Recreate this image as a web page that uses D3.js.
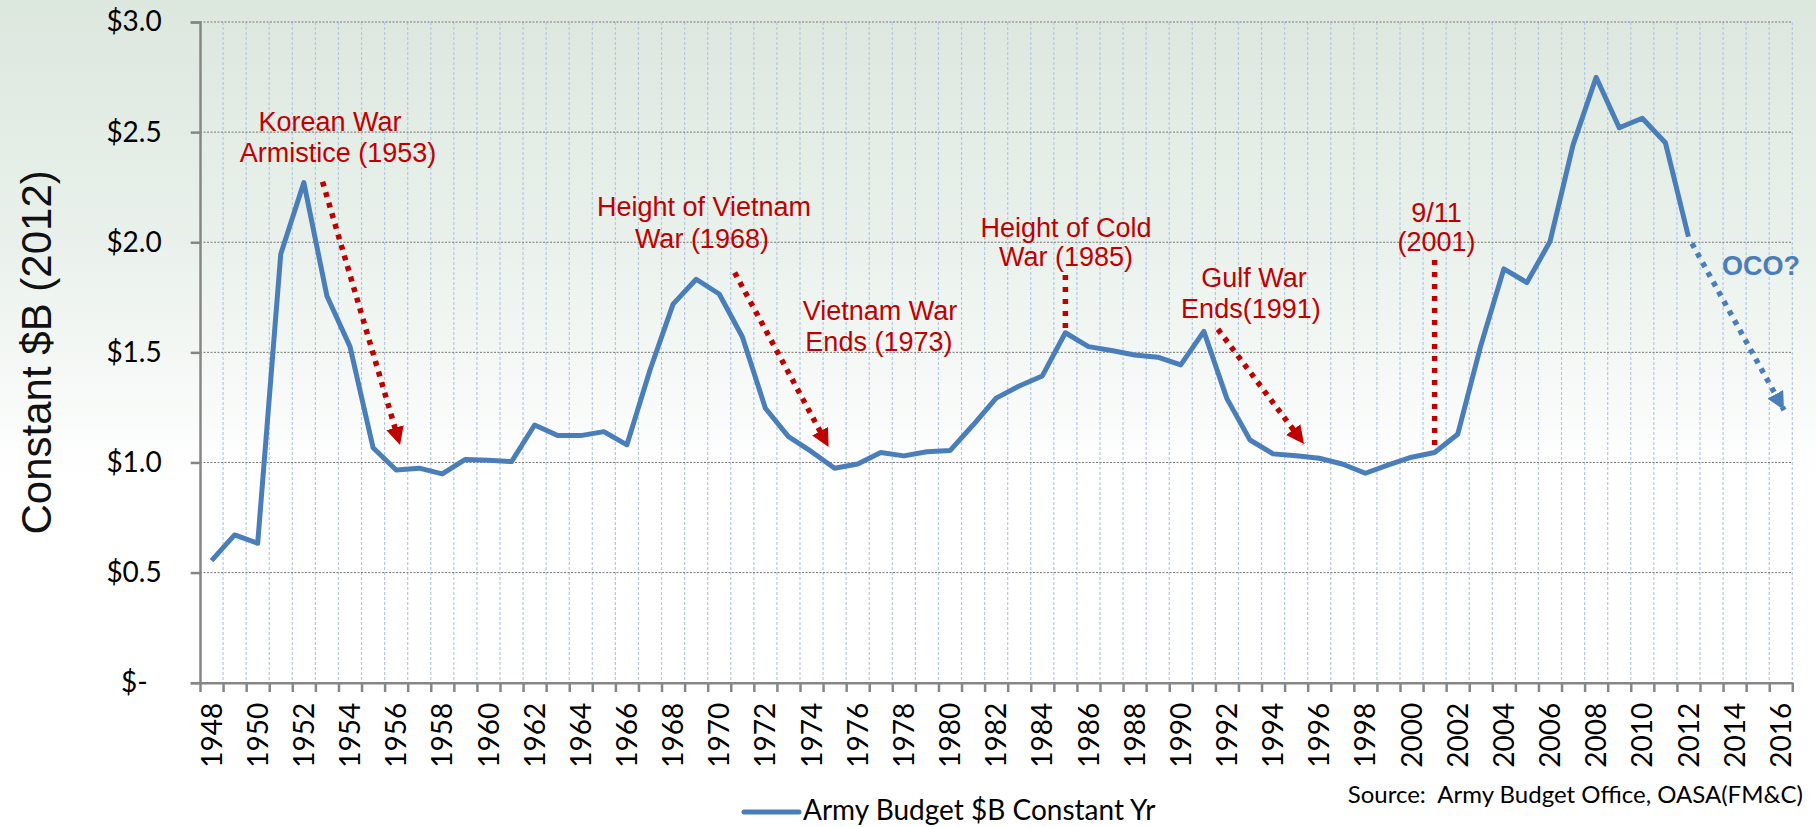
<!DOCTYPE html>
<html>
<head>
<meta charset="utf-8">
<script src="https://cdn.jsdelivr.net/npm/d3@7"></script>
<style>
  body { margin: 0; background: #fff; }
  svg { display: block; }
</style>
</head>
<body>
<svg id="chart"></svg>
<script>
// Categories (fiscal years) on the x axis
const years = ["1948","1949","1950","1951","1952","1953","1954","1955","1956","1957",
  "1958","1959","1960","1961","1962","1963","1964","1965","1966","1967","1968","1969",
  "1970","1971","1972","1973","1974","1975","1976","1977","1978","1979","1980","1981",
  "1982","1983","1984","1985","1986","1987","1988","1989","1990","1991","1992","1993",
  "1994","1995","1996","1997","1998","1999","2000","2001","2002","2003","2004","2005",
  "2006","2007","2008","2009","2010","2011","2012","2013","2014","2015","2016"];

// Army budget, $B constant 2012 (1948-2012)
const budget = [0.554, 0.671, 0.633, 1.947, 2.271, 1.756, 1.526, 1.067, 0.966, 0.974,
  0.948, 1.014, 1.010, 1.004, 1.170, 1.122, 1.122, 1.140, 1.080, 1.420, 1.719, 1.832,
  1.765, 1.571, 1.246, 1.117, 1.049, 0.974, 0.993, 1.045, 1.030, 1.049, 1.054, 1.170,
  1.292, 1.347, 1.393, 1.589, 1.526, 1.508, 1.488, 1.478, 1.443, 1.595, 1.290, 1.102,
  1.039, 1.030, 1.019, 0.993, 0.951, 0.989, 1.024, 1.045, 1.128, 1.530, 1.879, 1.817,
  2.003, 2.442, 2.749, 2.520, 2.563, 2.452, 2.025];

const xTickLabels = ["1948","1950","1952","1954","1956","1958","1960","1962","1964","1966",
  "1968","1970","1972","1974","1976","1978","1980","1982","1984","1986","1988","1990",
  "1992","1994","1996","1998","2000","2002","2004","2006","2008","2010","2012","2014","2016"];
const yTickValues = [0, 0.5, 1, 1.5, 2, 2.5, 3];
const yTickLabels = ["$-", "$0.5", "$1.0", "$1.5", "$2.0", "$2.5", "$3.0"];

// Annotation text lines: [text, year, value]
const noteText = [
  ["Korean War", 1953.13, 2.503],
  ["Armistice (1953)", 1953.48, 2.363],
  ["Height of Vietnam", 1969.34, 2.117],
  ["War (1968)", 1969.25, 1.972],
  ["Vietnam War", 1976.97, 1.645],
  ["Ends (1973)", 1976.92, 1.505],
  ["Height of Cold", 1985.03, 2.026],
  ["War (1985)", 1985.03, 1.891],
  ["Gulf War", 1993.17, 1.799],
  ["Ends(1991)", 1993.04, 1.655],
  ["9/11", 2001.08, 2.094],
  ["(2001)", 2001.08, 1.959]
];
// Dotted arrows: [year0, value0, year1, value1]
const redArrows = [
  [1952.81, 2.275, 1956.17, 1.079],
  [1970.67, 1.862, 1974.74, 1.070],
  [1991.61, 1.605, 1995.34, 1.084]
];
// Vertical dotted markers: [year, valueTop, valueBottom]
const redDrops = [[1985, 1.851, 1.610], [2001, 1.919, 1.075]];
const ocoArrow = [2012.15, 1.995, 2016.14, 1.238];
const ocoLabel = ["OCO?", 2015.14, 1.851];

const W = 1816, H = 827;
const margin = { top: 22, right: 23.7, bottom: 144.3, left: 200 };
const plotW = W - margin.left - margin.right;
const plotH = H - margin.top - margin.bottom;

const svg = d3.select("#chart").attr("width", W).attr("height", H);

// background gradient
const defs = svg.append("defs");
const grad = defs.append("linearGradient").attr("id", "bg")
  .attr("x1", 0).attr("y1", 0).attr("x2", 0).attr("y2", 1);
grad.append("stop").attr("offset", "0%").attr("stop-color", "#dce7de");
grad.append("stop").attr("offset", "30%").attr("stop-color", "#eaf1ec");
grad.append("stop").attr("offset", "58%").attr("stop-color", "#ffffff");
grad.append("stop").attr("offset", "100%").attr("stop-color", "#ffffff");
svg.append("rect").attr("width", W).attr("height", H).attr("fill", "url(#bg)");

// arrow heads
function addMarker(id, color) {
  defs.append("marker").attr("id", id)
    .attr("viewBox", "0 0 10 10").attr("refX", 10).attr("refY", 5)
    .attr("markerWidth", 18).attr("markerHeight", 18)
    .attr("markerUnits", "userSpaceOnUse").attr("orient", "auto")
    .append("path").attr("d", "M0,0 L10,5 L0,10 Z").attr("fill", color);
}
addMarker("headRed", "#c00000");
addMarker("headBlue", "#4a7ebb");

const g = svg.append("g").attr("transform", "translate(" + margin.left + "," + margin.top + ")");

// scales
const x = d3.scaleBand().domain(years).range([0, plotW]).padding(0);
const bw = x.bandwidth();
const xb = d3.scaleLinear().domain([0, years.length]).range([0, plotW]); // category boundaries
const xYear = d3.scaleLinear().domain([+years[0], +years[years.length - 1]])
  .range([bw / 2, plotW - bw / 2]);
const y = d3.scaleLinear().domain([0, 3]).range([plotH, 0]);

// vertical gridlines at category boundaries
g.append("g").selectAll("line")
  .data(d3.range(1, years.length + 1))
  .enter().append("line")
  .attr("x1", d => xb(d)).attr("x2", d => xb(d))
  .attr("y1", 0).attr("y2", plotH)
  .attr("stroke", "#b4c8e3").attr("stroke-width", 1.2)
  .attr("stroke-dasharray", "3,2");

// horizontal gridlines
g.append("g").selectAll("line")
  .data(yTickValues.slice(1))
  .enter().append("line")
  .attr("x1", 0).attr("x2", plotW)
  .attr("y1", d => y(d)).attr("y2", d => y(d))
  .attr("stroke", "#777").attr("stroke-width", 1)
  .attr("stroke-dasharray", "2,1.5");

// y axis
const yAxis = g.append("g")
  .call(d3.axisLeft(y).tickValues(yTickValues).tickSize(9.3).tickPadding(29)
    .tickFormat((d, i) => yTickLabels[i]));
yAxis.select(".domain").attr("stroke", "#868686").attr("stroke-width", 2.5);
yAxis.selectAll(".tick line").attr("stroke", "#868686").attr("stroke-width", 2.5);
yAxis.selectAll(".tick text")
  .attr("font-family", "Lato, sans-serif").attr("font-size", 28).attr("fill", "#000")
  .attr("dx", (d, i) => i === 0 ? -14 : 0);

// x axis: boundary ticks
const xTicks = g.append("g").attr("transform", "translate(0," + plotH + ")")
  .call(d3.axisBottom(xb).tickValues(d3.range(0, years.length + 1)).tickSize(9.3)
    .tickSizeOuter(0).tickFormat(""));
xTicks.select(".domain").attr("stroke", "#868686").attr("stroke-width", 2.5);
xTicks.selectAll(".tick line").attr("stroke", "#868686").attr("stroke-width", 2.5);

// x axis: labels at category centres
const xLabels = g.append("g").attr("transform", "translate(0," + plotH + ")")
  .call(d3.axisBottom(x).tickValues(xTickLabels).tickSize(0));
xLabels.select(".domain").remove();
xLabels.selectAll(".tick text")
  .attr("font-family", "Lato, sans-serif").attr("font-size", 28).attr("fill", "#000")
  .attr("transform", "rotate(-90)")
  .attr("x", -20).attr("y", 0).attr("dy", "0.36em")
  .attr("text-anchor", "end");

// data line
const line = d3.line()
  .x((d, i) => x(years[i]) + bw / 2)
  .y(d => y(d));
g.append("path")
  .datum(budget)
  .attr("d", line)
  .attr("fill", "none")
  .attr("stroke", "#4a7ebb")
  .attr("stroke-width", 5)
  .attr("stroke-linejoin", "round");

// red annotation arrows
g.append("g").selectAll("line")
  .data(redArrows)
  .enter().append("line")
  .attr("x1", d => xYear(d[0])).attr("y1", d => y(d[1]))
  .attr("x2", d => xYear(d[2])).attr("y2", d => y(d[3]))
  .attr("stroke", "#c00000").attr("stroke-width", 5.5)
  .attr("stroke-dasharray", "5,6")
  .attr("marker-end", "url(#headRed)");

g.append("g").selectAll("line")
  .data(redDrops)
  .enter().append("line")
  .attr("x1", d => xYear(d[0])).attr("x2", d => xYear(d[0]))
  .attr("y1", d => y(d[1])).attr("y2", d => y(d[2]))
  .attr("stroke", "#c00000").attr("stroke-width", 5.5)
  .attr("stroke-dasharray", "5,7");

// OCO arrow
g.append("line")
  .attr("x1", xYear(ocoArrow[0])).attr("y1", y(ocoArrow[1]))
  .attr("x2", xYear(ocoArrow[2])).attr("y2", y(ocoArrow[3]))
  .attr("stroke", "#4a7ebb").attr("stroke-width", 5.5)
  .attr("stroke-dasharray", "5,6")
  .attr("marker-end", "url(#headBlue)");

// annotation texts
g.append("g").selectAll("text")
  .data(noteText)
  .enter().append("text")
  .attr("x", d => xYear(d[1])).attr("y", d => y(d[2]))
  .attr("text-anchor", "middle")
  .attr("font-family", "'Liberation Sans', Arial, sans-serif")
  .attr("font-size", 27).attr("fill", "#c00000")
  .text(d => d[0]);

g.append("text")
  .attr("x", xYear(ocoLabel[1])).attr("y", y(ocoLabel[2]))
  .attr("text-anchor", "middle")
  .attr("font-family", "'Liberation Sans', Arial, sans-serif")
  .attr("font-size", 27).attr("font-weight", "bold").attr("fill", "#4a7ebb")
  .text(ocoLabel[0]);

// y axis title
svg.append("text")
  .attr("transform", "translate(36," + (margin.top + plotH / 2) + ") rotate(-90)")
  .attr("text-anchor", "middle").attr("dy", "0.35em")
  .attr("font-family", "'Liberation Sans', Arial, sans-serif")
  .attr("font-size", 42).attr("fill", "#111")
  .text("Constant $B (2012)");

// legend
const legend = svg.append("g").attr("transform", "translate(744,812)");
legend.append("line").attr("x1", 0).attr("x2", 55).attr("y1", 0).attr("y2", 0)
  .attr("stroke", "#4a7ebb").attr("stroke-width", 5).attr("stroke-linecap", "round");
legend.append("text").attr("x", 59).attr("y", 8)
  .attr("font-family", "Lato, sans-serif").attr("font-size", 28).attr("fill", "#000")
  .text("Army Budget $B Constant Yr");

// source note
svg.append("text")
  .attr("x", 1803).attr("y", 803)
  .attr("text-anchor", "end")
  .attr("font-family", "Lato, sans-serif").attr("font-size", 24).attr("fill", "#000")
  .attr("xml:space", "preserve")
  .text("Source:  Army Budget Office, OASA(FM&C)");
</script>
</body>
</html>
